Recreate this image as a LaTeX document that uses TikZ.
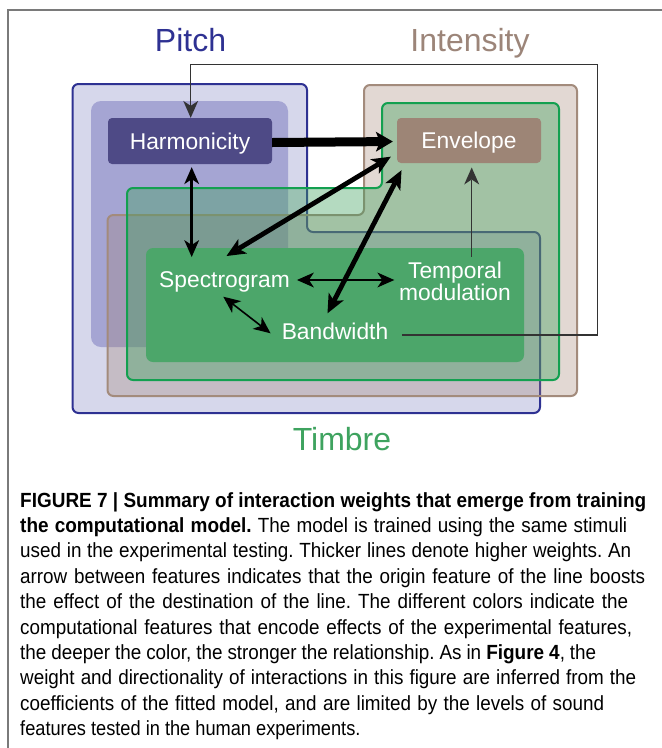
\documentclass[tikz,border=0pt]{standalone}
\usepackage{fontspec}
\setmainfont{Liberation Sans}
\newfontfamily\capfont[FakeStretch=0.92]{Liberation Sans}
\newfontfamily\capbfont[FakeStretch=0.925]{Liberation Sans}
\usetikzlibrary{arrows.meta}
\frenchspacing

\definecolor{pitchblue}{HTML}{2E3192}
\definecolor{pitchfill}{HTML}{D6D7EB}
\definecolor{pitchinner}{HTML}{A5A5D3}
\definecolor{harmfill}{HTML}{4E4A86}
\definecolor{intbrown}{HTML}{A38B7C}
\definecolor{intfill}{HTML}{A08070}
\definecolor{envfill}{HTML}{9D8576}
\definecolor{timgreen}{HTML}{13A050}
\definecolor{timfill}{HTML}{3CA05A}
\definecolor{timinner}{HTML}{4CA66A}
\definecolor{titlegreen}{HTML}{3EA35F}
\definecolor{titlebrown}{HTML}{9C8579}
\definecolor{framegray}{HTML}{7A7A7A}
\definecolor{wire}{HTML}{333333}

\tikzset{
  bigtip/.tip={Stealth[length=17pt,width=20pt,inset=4pt,line width=0pt]},
  midtip/.tip={Stealth[length=19pt,width=17pt,inset=5pt,line width=0pt]},
  smalltip/.tip={Stealth[length=17pt,width=15pt,inset=5pt,line width=0pt]},
  thintip/.tip={Stealth[length=17pt,width=15pt,inset=5pt,line width=0pt]},
}
% caption line spread to a given width
\newcommand{\capspread}[2]{\makebox[#1pt][s]{#2}}

\begin{document}
\begin{tikzpicture}[x=1pt,y=-1pt,
  title/.style={font=\fontsize{32}{36}\selectfont, inner sep=0pt, anchor=base},
  featbox/.style={rounded corners=4pt, text=white, font=\fontsize{22.8}{24}\selectfont,
    inner sep=0pt, text height=16.5pt, text depth=0pt},
  featlbl/.style={text=white, font=\fontsize{22.8}{24}\selectfont, inner sep=0pt,
    text height=16.5pt, text depth=0pt},
  capline/.style={anchor=base west, inner sep=0pt, font=\capfont\fontsize{20.5}{25.4}\selectfont\frenchspacing},
  link/.style={draw=black, line cap=butt},
]
\useasboundingbox (0,0) rectangle (662,748);
\fill[white] (0,0) rectangle (662,748);

% page frame (top and left rules)
\draw[framegray, line width=1.6pt] (8,748) -- (8,10) -- (662,10);

% feature group titles
\node[title, text=pitchblue] (pitchlbl) at (190.5,51) {Pitch};
\node[title, text=titlebrown] (intlbl) at (470,51) {Intensity};
\node[title, text=titlegreen] (timlbl) at (342,450) {Timbre};

% Pitch region
\filldraw[fill=pitchfill, draw=pitchblue, line width=2pt, rounded corners=6pt]
  (72.5,84) -- (307,84) -- (307,232) -- (540,232) -- (540,413) -- (72.5,413) -- cycle;
\fill[pitchinner, rounded corners=10pt] (91,101) rectangle (288,347);

% Intensity region
\filldraw[fill=intfill, fill opacity=0.3, draw=intbrown, line width=2pt, rounded corners=6pt]
  (364,85) -- (577,85) -- (577,396) -- (107.5,396) -- (107.5,215) -- (364,215) -- cycle;

% Timbre region
\filldraw[fill=timfill, fill opacity=0.38, draw=timgreen, line width=2pt, rounded corners=6pt]
  (382,103) -- (559,103) -- (559,380) -- (127,380) -- (127,188) -- (382,188) -- cycle;
\fill[timinner, rounded corners=7pt] (146,248) rectangle (524,362);

% features
\node[featbox, fill=harmfill, minimum width=164pt, minimum height=46pt] (harm) at (190,141) {Harmonicity};
\node[featbox, fill=envfill, minimum width=144pt, minimum height=45pt] (env) at (469,140.5) {Envelope};
\node[featlbl] (spec) at (224.5,279) {Spectrogram};
\node[text=white, font=\fontsize{22.8}{19}\selectfont, inner sep=0pt, align=center] (temp) at (455,281.2) {Temporal\\modulation};
\node[featlbl] (band) at (335,331.7) {Bandwidth};

% interactions
\draw[link, line width=9pt, -bigtip, shorten >=4pt] ([yshift=-1.5pt]harm.east) -- ([yshift=-1pt]env.west);
\draw[link, line width=4.8pt, midtip-midtip]
  ([xshift=2pt,yshift=23pt]spec.center) -- ([xshift=-6pt,yshift=6.5pt]env.south west);
\draw[link, line width=4.8pt, midtip-midtip]
  ([xshift=-7.5pt,yshift=18.4pt]band.center) -- ([xshift=4.7pt,yshift=-7pt]env.south west);
\draw[link, line width=3pt, smalltip-smalltip]
  ([xshift=1.7pt,yshift=-3pt]harm.south) -- ([xshift=-32.8pt,yshift=22pt]spec.center);
\draw[link, line width=2.2pt, smalltip-smalltip]
  ([xshift=7pt,yshift=-1pt]spec.east) -- ([xshift=-4.7pt,yshift=1.2pt]temp.west);
\draw[link, line width=1.6pt, smalltip-smalltip]
  ([xshift=-1.2pt,yshift=-17.7pt]spec.center) -- ([xshift=-11pt,yshift=-1.6pt]band.west);
\draw[link, draw=wire, line width=1.2pt, -thintip]
  ([xshift=16.7pt,yshift=5pt]temp.north) -- ([xshift=2.7pt,yshift=-4.3pt]env.south);
\draw[link, draw=wire, line width=1.3pt, -thintip]
  ([xshift=13.4pt,yshift=-3.3pt]band.east) -- ++(196,0)
  |- ([xshift=0.7pt,yshift=53pt]harm.north) -- ([xshift=0.7pt]harm.north);

% caption
\node[capline] (c1) at (20,507.0) {\capspread{626}{\capbfont\bfseries FIGURE 7 | Summary of interaction weights that emerge from training}};
\node[capline] (c2) at (20,532.4) {\capspread{607}{{\capbfont\bfseries the computational model.} The model is trained using the same stimuli}};
\node[capline] (c3) at (20,557.8) {\capspread{611}{used in the experimental testing. Thicker lines denote higher weights. An}};
\node[capline] (c4) at (20,583.2) {\capspread{625}{arrow between features indicates that the origin feature of the line boosts}};
\node[capline] (c5) at (20,608.6) {\capspread{608}{the effect of the destination of the line. The different colors indicate the}};
\node[capline] (c6) at (20,634.0) {\capspread{612}{computational features that encode effects of the experimental features,}};
\node[capline] (c7) at (20,659.4) {\capspread{576}{the deeper the color, the stronger the relationship. As in {\capbfont\bfseries Figure 4}, the}};
\node[capline] (c8) at (20,684.8) {\capspread{616}{weight and directionality of interactions in this figure are inferred from the}};
\node[capline] (c9) at (20,710.2) {\capspread{584}{coefficients of the fitted model, and are limited by the levels of sound}};
\node[capline] (c10) at (20,735.6) {\scalebox{0.966}[1]{features tested in the human experiments.}};
\end{tikzpicture}
\end{document}
